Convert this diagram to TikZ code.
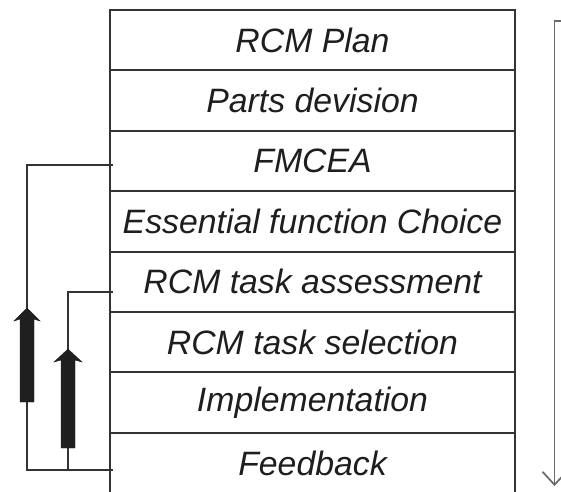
\documentclass[tikz,border=0pt]{standalone}
\usepackage{fontspec}
\setmainfont{Liberation Sans}
\usetikzlibrary{arrows.meta}
\definecolor{linegray}{HTML}{333333}
\definecolor{txt}{HTML}{1E1E1E}
\definecolor{sidegray}{HTML}{6A6A6A}
\begin{document}
\begin{tikzpicture}[x=1pt,y=-1pt,
  rowbox/.style={draw=linegray, line width=2pt, minimum width=405pt, minimum height=60.4pt,
    inner sep=0pt, outer sep=0pt, font=\fontsize{33.8}{36}\selectfont\itshape, text=txt},
  conn/.style={draw=linegray, line width=1.6pt},
  bigarrow/.style={fill=black!88, draw=black!88, line width=0.4pt, line join=miter},
  sidearrow/.style={draw=sidegray, line width=1.7pt, -{Straight Barb[length=13pt,width=24pt,line width=1.7pt]}}]
\useasboundingbox (0,0) rectangle (561,491);
\clip (0,0) rectangle (561,491);
\fill[white] (0,0) rectangle (561,491);

\node[rowbox, anchor=north west] (r1) at (110,10) {RCM Plan};
\node[rowbox, anchor=north] (r2) at (r1.south) {Parts devision};
\node[rowbox, anchor=north] (r3) at (r2.south) {FMCEA};
\node[rowbox, anchor=north] (r4) at (r3.south) {Essential function Choice};
\node[rowbox, anchor=north] (r5) at (r4.south) {RCM task assessment};
\node[rowbox, anchor=north] (r6) at (r5.south) {RCM task selection};
\node[rowbox, anchor=north] (r7) at (r6.south) {Implementation};
\node[rowbox, anchor=north] (r8) at (r7.south) {Feedback};

% feedback connectors
\coordinate (o1) at (27,165);
\coordinate (o2) at (27,470);
\coordinate (i1) at (68,292);
\coordinate (i2) at (68,470);
\draw[conn] ([xshift=3pt]r3.west |- o1) -- (o1) -- (o2) -- ([xshift=3pt]r8.west |- o2);
\draw[conn] ([xshift=3pt]r5.west |- i1) -- (i1) -- (i2);

% thick upward arrows
\filldraw[bigarrow] (27,308) -- (40,321) -- (34,319) -- (34,402) -- (20,402) -- (20,319) -- (14,321) -- cycle;
\filldraw[bigarrow] (68,349) -- (82,362) -- (75,360) -- (75,448) -- (61,448) -- (61,360) -- (54,362) -- cycle;

% right side arrow
\coordinate (s0) at (562,21);
\coordinate (s1) at (554.5,21);
\coordinate (s2) at (554.5,486);
\draw[sidearrow] (s0) -- (s1) -- (s2);
\end{tikzpicture}
\end{document}
